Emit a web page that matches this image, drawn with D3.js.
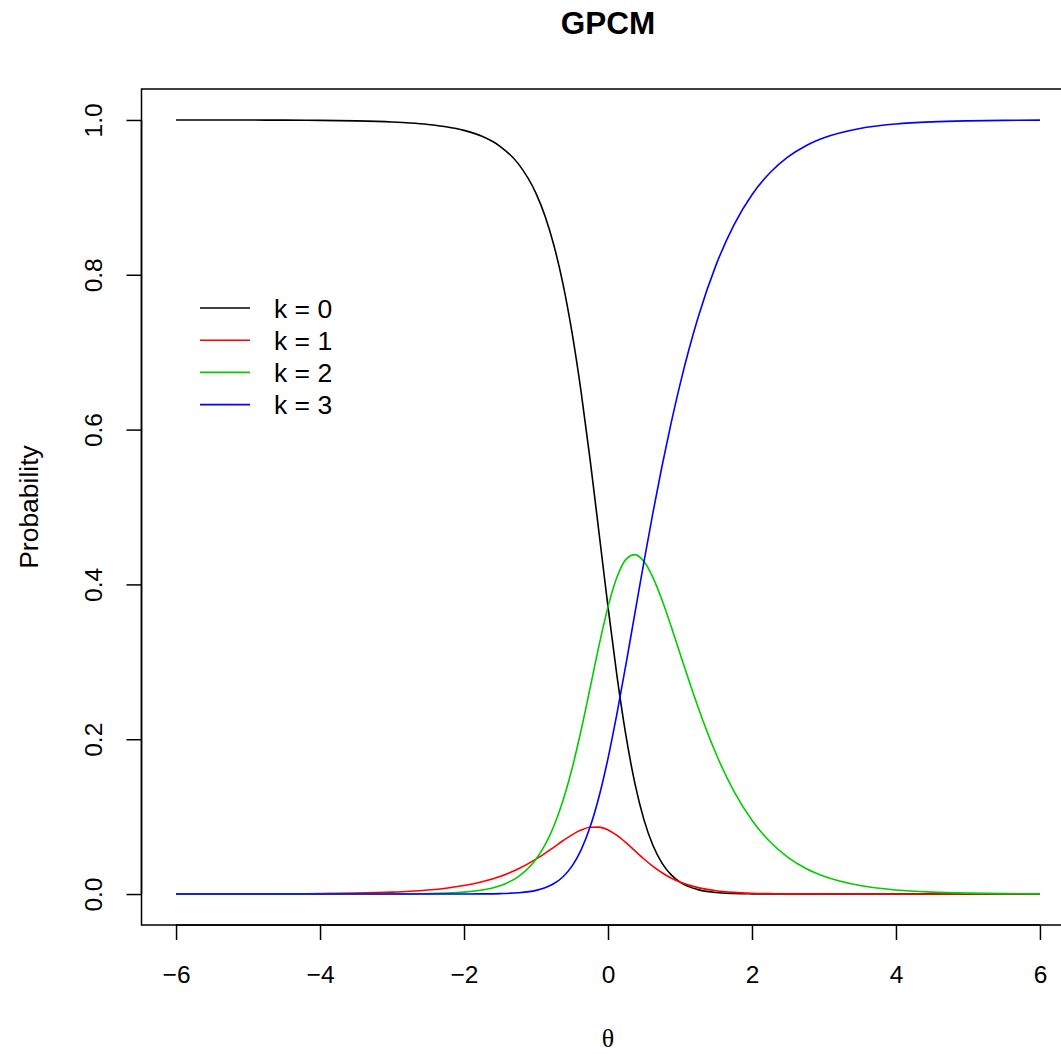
<!DOCTYPE html>
<html>
<head>
<meta charset="utf-8">
<script src="https://cdn.jsdelivr.net/npm/d3@7"></script>
<style>
  html, body { margin: 0; padding: 0; background: #fff; }
  #chart { width: 1061px; height: 1054px; }
</style>
</head>
<body>
<div id="chart"></div>
<script>
// Category response curves (theta grid + one array per category)
const theta = [-6, -5.5, -5, -4.5, -4, -3.5, -3, -2.75, -2.5, -2.25, -2, -1.75, -1.5, -1.25, -1,
    -0.875, -0.75, -0.625, -0.5, -0.375, -0.25, -0.125, 0, 0.125, 0.25, 0.375, 0.5, 0.625, 0.75,
    0.875, 1, 1.25, 1.5, 1.75, 2, 2.25, 2.5, 2.75, 3, 3.5, 4, 4.5, 5, 5.5, 6];

const p0 = [1.0000, 0.99994, 0.99988, 0.99974, 0.99944, 0.99880, 0.99740, 0.99615, 0.99423, 0.99125,
    0.98654, 0.97887, 0.96602, 0.94390, 0.90512, 0.87588, 0.83752, 0.78796, 0.72552, 0.64971,
    0.56209, 0.46698, 0.37099, 0.28144, 0.20422, 0.14234, 0.09582, 0.06267, 0.04003, 0.02509,
    0.01548, 0.00568, 0.00201, 0.00070, 0.00024, 0.00008, 0.00003, 0.00001, 0, 0, 0, 0, 0, 0, 0];

const p1 = [0.00003, 0.00006, 0.00012, 0.00026, 0.00055, 0.00117, 0.00247, 0.00359, 0.00522, 0.00757,
    0.01096, 0.01582, 0.02272, 0.03230, 0.04506, 0.05260, 0.06067, 0.06885, 0.07647, 0.08260,
    0.08620, 0.08638, 0.08278, 0.07575, 0.06630, 0.05574, 0.04526, 0.03571, 0.02751, 0.02080,
    0.01548, 0.00827, 0.00426, 0.00214, 0.00106, 0.00052, 0.00025, 0.00012, 0.00006, 0.00001,
    0, 0, 0, 0, 0];

const p2 = [0, 0, 0, 0, 0.00001, 0.00003, 0.00012, 0.00026, 0.00055, 0.00116,
    0.00245, 0.00514, 0.01073, 0.02220, 0.04506, 0.06345, 0.08827, 0.12084, 0.16189, 0.21093,
    0.26551, 0.32095, 0.37099, 0.40949, 0.43234, 0.43844, 0.42946, 0.40867, 0.37982, 0.34631,
    0.31089, 0.24166, 0.18128, 0.13259, 0.09523, 0.06751, 0.04741, 0.03308, 0.02298, 0.01099,
    0.00522, 0.00247, 0.00117, 0.00055, 0.00026];

const p3 = [0, 0, 0, 0, 0, 0, 0, 0, 0.00001, 0.00002,
    0.00006, 0.00018, 0.00053, 0.00161, 0.00475, 0.00807, 0.01354, 0.02235, 0.03612, 0.05677,
    0.08620, 0.12569, 0.17524, 0.23332, 0.29714, 0.36348, 0.42946, 0.49295, 0.55263, 0.60780,
    0.65816, 0.74439, 0.81244, 0.86457, 0.90348, 0.93190, 0.95231, 0.96679, 0.97697, 0.98900,
    0.99478, 0.99753, 0.99883, 0.99945, 0.99974];

const seriesLabels = ["k = 0", "k = 1", "k = 2", "k = 3"];
const seriesColors = ["#000000", "#FF0000", "#00CD00", "#0000FF"];
const xTicks = [-6, -4, -2, 0, 2, 4, 6];
const yTicks = [0, 0.2, 0.4, 0.6, 0.8, 1.0];

// 1. Dimensions (R base-graphics style plot region, 4% padding on each axis)
const outerWidth = 1061, outerHeight = 1054;
const plot = { left: 141.5, right: 1074.5, top: 89, bottom: 925 };
const font = "'Liberation Sans', Arial, Helvetica, sans-serif";

const svg = d3.select("#chart").append("svg")
    .attr("width", outerWidth)
    .attr("height", outerHeight);

const x = d3.scaleLinear().domain([-6.48, 6.48]).range([plot.left, plot.right]);
const y = d3.scaleLinear().domain([-0.04, 1.04]).range([plot.bottom, plot.top]);

// 2. Curves
const series = [p0, p1, p2, p3];
const line = d3.line()
    .x(d => x(d[0]))
    .y(d => y(d[1]))
    .curve(d3.curveMonotoneX);

svg.append("g")
    .attr("class", "curves")
  .selectAll("path")
    .data(series)
    .enter().append("path")
    .attr("d", vals => line(theta.map((t, i) => [t, vals[i]])))
    .attr("fill", "none")
    .attr("stroke", (d, i) => seriesColors[i])
    .attr("stroke-width", 1.6);

// 3. Plot box (right edge falls outside the canvas, as in the original)
svg.append("rect")
    .attr("x", plot.left)
    .attr("y", plot.top)
    .attr("width", plot.right - plot.left)
    .attr("height", plot.bottom - plot.top)
    .attr("fill", "none")
    .attr("stroke", "#000")
    .attr("stroke-width", 1.5);

// 4. Axes
const xAxis = svg.append("g")
    .attr("transform", `translate(0,${plot.bottom})`)
    .call(d3.axisBottom(x).tickValues(xTicks).tickSize(15).tickPadding(40)
        .tickFormat(d => d < 0 ? "\u2212" + Math.abs(d) : String(d)));
xAxis.select(".domain")
    .attr("d", `M${x(-6)},0H${x(6)}`)
    .attr("stroke-width", 1.5);
xAxis.selectAll(".tick line").attr("stroke-width", 1.5);
xAxis.selectAll(".tick text")
    .attr("y", 58)
    .attr("dy", 0)
    .style("font-family", font)
    .style("font-size", "24.5px")
    .style("fill", "#000");

const yAxis = svg.append("g")
    .attr("transform", `translate(${plot.left},0)`)
    .call(d3.axisLeft(y).tickValues(yTicks).tickSize(15).tickFormat(d3.format(".1f")));
yAxis.select(".domain")
    .attr("d", `M0,${y(0)}V${y(1)}`)
    .attr("stroke-width", 1.5);
yAxis.selectAll(".tick line").attr("stroke-width", 1.5);
yAxis.selectAll(".tick text")
    .attr("x", null)
    .attr("dy", 0)
    .attr("text-anchor", "middle")
    .attr("transform", "translate(-40,0) rotate(-90)")
    .style("font-family", font)
    .style("font-size", "24.5px")
    .style("fill", "#000");

// 5. Titles
svg.append("text")
    .attr("x", (plot.left + plot.right) / 2)
    .attr("y", 34)
    .attr("text-anchor", "middle")
    .style("font-family", font)
    .style("font-size", "31.5px")
    .style("font-weight", "bold")
    .text("GPCM");

svg.append("text")
    .attr("x", x(0))
    .attr("y", 1047)
    .attr("text-anchor", "middle")
    .style("font-family", "'Liberation Serif', 'DejaVu Serif', serif")
    .style("font-size", "26px")
    .text("\u03B8");

svg.append("text")
    .attr("transform", `translate(38,${y(0.5)}) rotate(-90)`)
    .attr("text-anchor", "middle")
    .style("font-family", font)
    .style("font-size", "26.5px")
    .text("Probability");

// 6. Legend (no box)
const legend = svg.append("g")
    .attr("class", "legend")
    .attr("transform", "translate(200,308)");

const rows = legend.selectAll(".row")
    .data(seriesLabels)
    .enter().append("g")
    .attr("transform", (d, i) => `translate(0,${i * 32.2})`);

rows.append("line")
    .attr("x1", 0).attr("x2", 50)
    .attr("y1", 0).attr("y2", 0)
    .attr("stroke", (d, i) => seriesColors[i])
    .attr("stroke-width", 1.6);

rows.append("text")
    .attr("x", 74)
    .attr("y", 9.5)
    .style("font-family", font)
    .style("font-size", "26.5px")
    .text(d => d);
</script>
</body>
</html>
